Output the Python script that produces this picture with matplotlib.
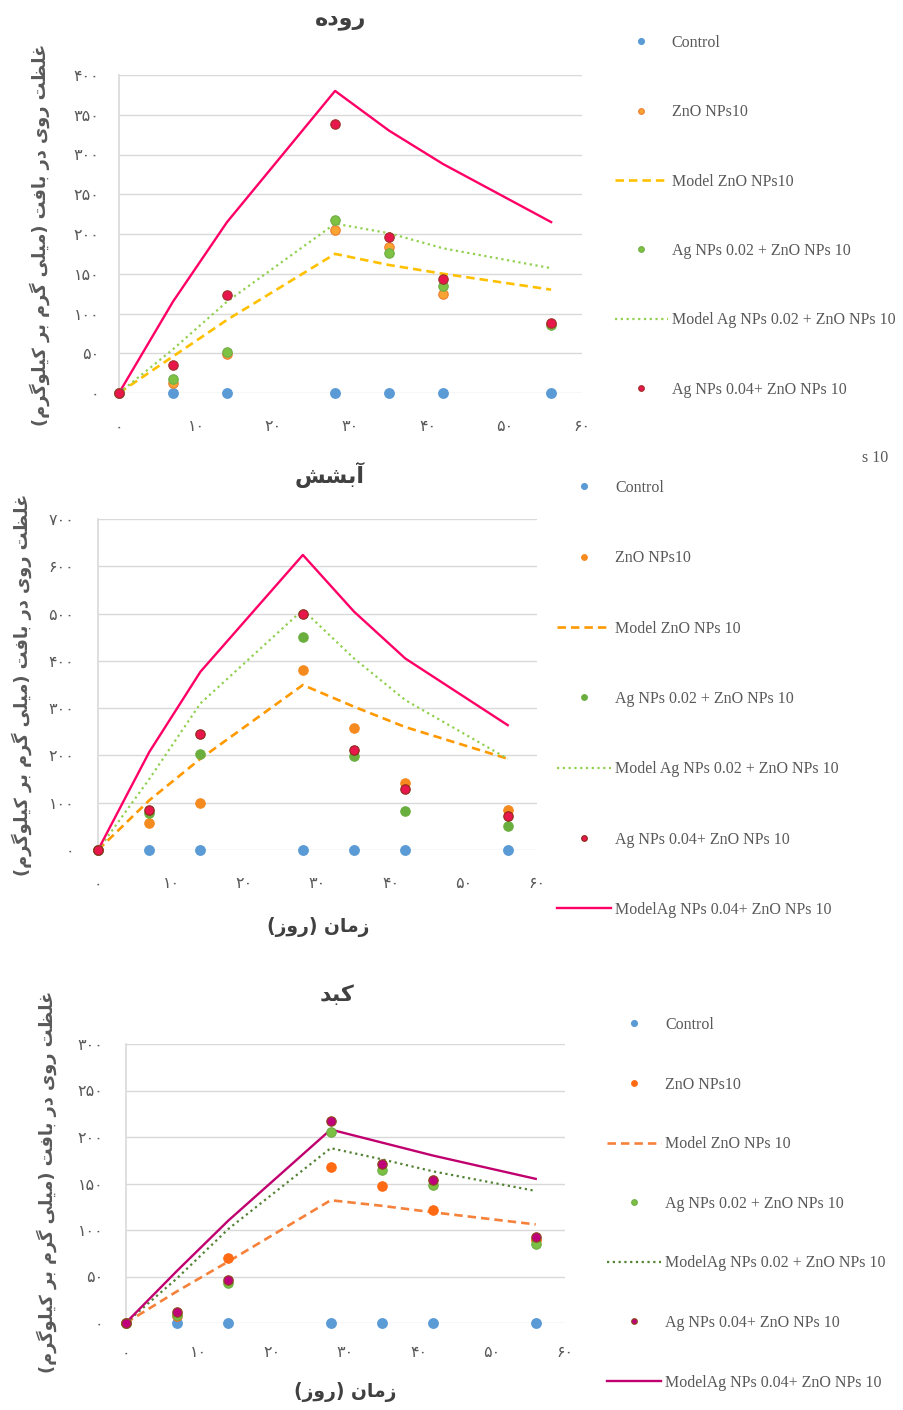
import matplotlib
matplotlib.use('Agg')
import matplotlib.pyplot as plt

W, H = 904, 1410

# sampling days
days = [0, 7, 14, 28, 35, 42, 56]

# intestine (روده)
int_control = [0, 0, 0, 0, 0, 0, 0]
int_zno = [0, 13, 49, 205, 184, 125, 87]
int_ag02 = [0, 17, 52, 217, 176, 134, 86]
int_ag04 = [0, 35, 123, 338, 196, 144, 88]
int_model_zno = [0, 46, 92, 175, 161, 150, 130]
int_model_ag02 = [0, 55, 115, 213, 201, 182, 157]
int_model_ag04 = [0, 115, 215, 380, 330, 288, 215]

# gill (آبشش)
gill_control = [0, 0, 0, 0, 0, 0, 0]
gill_zno = [0, 57, 99, 380, 257, 141, 85]
gill_ag02 = [0, 78, 204, 451, 198, 83, 50]
gill_ag04 = [0, 85, 245, 500, 212, 129, 72]
gill_model_zno = [0, 105, 193, 349, 303, 260, 193]
gill_model_ag02 = [0, 150, 310, 508, 405, 317, 193]
gill_model_ag04 = [0, 207, 377, 624, 504, 405, 264]

# liver (کبد)
liv_control = [0, 0, 0, 0, 0, 0, 0]
liv_zno = [0, 7, 70, 168, 147, 122, 89]
liv_ag02 = [0, 9, 43, 205, 165, 148, 85]
liv_ag04 = [0, 12, 46, 217, 171, 154, 92]
liv_model_zno = [0, 34, 66, 132, 126, 119, 106]
liv_model_ag02 = [0, 48, 101, 188, 176, 163, 142]
liv_model_ag04 = [0, 56, 110, 208, 194, 180, 155]

int_labels = ['Control', 'ZnO NPs10', 'Model ZnO NPs10', 'Ag NPs 0.02 + ZnO NPs 10',
              'Model Ag NPs 0.02 + ZnO NPs 10', 'Ag NPs 0.04+ ZnO NPs 10',
              'ModelAg NPs 0.04+ ZnO NPs 10']
gill_labels = ['Control', 'ZnO NPs10', 'Model ZnO NPs 10', 'Ag NPs 0.02 + ZnO NPs 10',
               'Model Ag NPs 0.02 + ZnO NPs 10', 'Ag NPs 0.04+ ZnO NPs 10',
               'ModelAg NPs 0.04+ ZnO NPs 10']
liv_labels = ['Control', 'ZnO NPs10', 'Model ZnO NPs 10', 'Ag NPs 0.02 + ZnO NPs 10',
              'ModelAg NPs 0.02 + ZnO NPs 10', 'Ag NPs 0.04+ ZnO NPs 10',
              'ModelAg NPs 0.04+ ZnO NPs 10']

# matplotlib has no arabic shaping, so pick presentation forms by hand
# (isolated, final, initial, medial)
FORMS = {
    'ا': ('\uFE8D', '\uFE8E'), 'آ': ('\uFE81', '\uFE82'),
    'د': ('\uFEA9', '\uFEAA'), 'ر': ('\uFEAD', '\uFEAE'),
    'ز': ('\uFEAF', '\uFEB0'), 'و': ('\uFEED', '\uFEEE'),
    'ب': ('\uFE8F', '\uFE90', '\uFE91', '\uFE92'),
    'ت': ('\uFE95', '\uFE96', '\uFE97', '\uFE98'),
    'ش': ('\uFEB5', '\uFEB6', '\uFEB7', '\uFEB8'),
    'ظ': ('\uFEC5', '\uFEC6', '\uFEC7', '\uFEC8'),
    'غ': ('\uFECD', '\uFECE', '\uFECF', '\uFED0'),
    'ف': ('\uFED1', '\uFED2', '\uFED3', '\uFED4'),
    'ل': ('\uFEDD', '\uFEDE', '\uFEDF', '\uFEE0'),
    'م': ('\uFEE1', '\uFEE2', '\uFEE3', '\uFEE4'),
    'ن': ('\uFEE5', '\uFEE6', '\uFEE7', '\uFEE8'),
    'ه': ('\uFEE9', '\uFEEA', '\uFEEB', '\uFEEC'),
    'ی': ('\uFBFC', '\uFBFD', '\uFBFE', '\uFBFF'),
    'ک': ('\uFB8E', '\uFB8F', '\uFB90', '\uFB91'),
    'گ': ('\uFB92', '\uFB93', '\uFB94', '\uFB95'),
}

def shape(s):
    out = []
    for i, ch in enumerate(s):
        if ch not in FORMS:
            out.append(ch)
            continue
        f = FORMS[ch]
        prev = s[i - 1] if i > 0 else ''
        nxt = s[i + 1] if i + 1 < len(s) else ''
        jp = prev in FORMS and len(FORMS[prev]) == 4
        jn = len(f) == 4 and nxt in FORMS
        if jp and jn:
            out.append(f[3])
        elif jp:
            out.append(f[1])
        elif jn:
            out.append(f[2])
        else:
            out.append(f[0])
    vis = ''.join(reversed(out))
    return vis.translate(str.maketrans('()', ')('))

def fa(n):
    return str(n).translate(str.maketrans('0123456789', '۰۱۲۳۴۵۶۷۸۹'))

YLABEL = shape('غلظت روی در بافت (میلی گرم بر کیلوگرم)')
XLABEL = shape('زمان (روز)')

fig = plt.figure(figsize=(W / 100, H / 100), dpi=100)

def px_axes(left, top, right, bottom):
    return fig.add_axes([left / W, 1 - bottom / H, (right - left) / W, (bottom - top) / H])

def ftext(x, y, s, **kw):
    fig.text(x / W, 1 - y / H, s, **kw)

def draw_panel(ax, series, labels, colors, ymax, ystep, xpad, ypad, leg_xy, leg_space,
               handlelen, n_legend):
    control, zno, ag02, ag04, m_zno, m_ag02, m_ag04 = series
    c = colors
    ms = 6.8
    h = []
    h += ax.plot(days, control, 'o', color=c['control'], mec=c['control'], ms=ms,
                 clip_on=False, zorder=4)
    h += ax.plot(days, zno, 'o', color=c['zno'], mec=c['zno_e'], ms=ms, mew=0.8,
                 clip_on=False, zorder=4)
    h += ax.plot(days, m_zno, color=c['m_zno'], lw=1.9, ls=(0, (3.2, 1.9)), zorder=2)
    h += ax.plot(days, ag02, 'o', color=c['ag02'], mec=c['ag02_e'], ms=ms, mew=0.8,
                 clip_on=False, zorder=4)
    h += ax.plot(days, m_ag02, color=c['m_ag02'], lw=1.6, ls=(0, (1, 1.6)), zorder=2)
    h += ax.plot(days, ag04, 'o', color=c['ag04'], mec=c['ag04_e'], ms=ms, mew=0.8,
                 clip_on=False, zorder=5)
    h += ax.plot(days, m_ag04, color=c['m_ag04'], lw=1.7, zorder=3)

    ax.set_xlim(0, 60)
    ax.set_ylim(0, ymax)
    ax.set_xticks(range(0, 61, 10))
    ax.set_xticklabels([fa(v) for v in range(0, 61, 10)])
    yt = list(range(0, ymax + 1, ystep))
    ax.set_yticks(yt)
    ax.set_yticklabels([fa(v) for v in yt])
    ax.tick_params(axis='both', length=0, labelsize=11.5, labelcolor='#595959')
    ax.tick_params(axis='x', pad=xpad)
    ax.tick_params(axis='y', pad=ypad)
    ax.grid(axis='y', color='#d9d9d9', lw=1)
    ax.set_axisbelow(True)
    for side in ['top', 'right', 'bottom']:
        ax.spines[side].set_visible(False)
    ax.spines['left'].set_color('#d9d9d9')
    ax.spines['left'].set_linewidth(1.2)

    fs = 11.5
    leg = ax.legend(h[:n_legend], labels[:n_legend], loc='upper left',
                    bbox_to_anchor=(leg_xy[0] / W, 1 - leg_xy[1] / H),
                    bbox_transform=fig.transFigure, frameon=False,
                    prop={'family': 'Liberation Serif', 'size': fs},
                    labelspacing=leg_space, handlelength=handlelen, handletextpad=0.25,
                    borderpad=0, borderaxespad=0, markerscale=0.6)
    for t in leg.get_texts():
        t.set_color('#595959')

title_kw = dict(ha='center', va='center', fontsize=16, fontweight='bold', color='#404040')
ylab_kw = dict(ha='center', va='center', rotation=90, fontsize=12.8, fontweight='bold',
               color='#595959')
xlab_kw = dict(ha='center', va='center', fontsize=13.5, fontweight='bold', color='#404040')

# --- panel 1: intestine
ax1 = px_axes(119, 75, 582, 393)
draw_panel(ax1, [int_control, int_zno, int_ag02, int_ag04, int_model_zno, int_model_ag02,
                 int_model_ag04], int_labels,
           dict(control='#5b9bd5', zno='#f9a330', zno_e='#ed7d31', m_zno='#ffc000',
                ag02='#7dc243', ag02_e='#70ad47', m_ag02='#92d050',
                ag04='#e8174b', ag04_e='#a0302a', m_ag04='#ff0066'),
           400, 50, 19, 14, (615, 35), 3.34, 3.3, 6)
ftext(341, 20, shape('روده'), **title_kw)
ftext(40, 235, YLABEL, **ylab_kw)
ftext(862, 458, 's 10', fontsize=11.5, family='Liberation Serif', color='#595959',
      ha='left', va='center')

# --- panel 2: gill
ax2 = px_axes(98, 519, 537, 850)
draw_panel(ax2, [gill_control, gill_zno, gill_ag02, gill_ag04, gill_model_zno,
                 gill_model_ag02, gill_model_ag04], gill_labels,
           dict(control='#5b9bd5', zno='#f58a1f', zno_e='#f58a1f', m_zno='#ff9900',
                ag02='#6aae3e', ag02_e='#6aae3e', m_ag02='#92d050',
                ag04='#e8174b', ag04_e='#8b2a1a', m_ag04='#ff0066'),
           700, 100, 19, 17, (557, 480), 3.4, 3.4, 7)
ftext(330, 475, shape('آبشش'), **title_kw)
ftext(22, 685, YLABEL, **ylab_kw)
ftext(318, 927, XLABEL, **xlab_kw)

# --- panel 3: liver
ax3 = px_axes(125.7, 1044, 565, 1323)
draw_panel(ax3, [liv_control, liv_zno, liv_ag02, liv_ag04, liv_model_zno,
                 liv_model_ag02, liv_model_ag04], liv_labels,
           dict(control='#5b9bd5', zno='#ff6a13', zno_e='#ff6a13', m_zno='#f5813a',
                ag02='#7bc043', ag02_e='#70ad47', m_ag02='#548235',
                ag04='#c0007a', ag04_e='#8b4a1a', m_ag04='#c0006f'),
           300, 50, 16, 16, (607, 1017), 2.73, 3.4, 7)
ftext(337, 995, shape('کبد'), **title_kw)
ftext(47, 1182, YLABEL, **ylab_kw)
ftext(345, 1392, XLABEL, **xlab_kw)

fig.savefig('out.png', dpi=100, facecolor='white')
